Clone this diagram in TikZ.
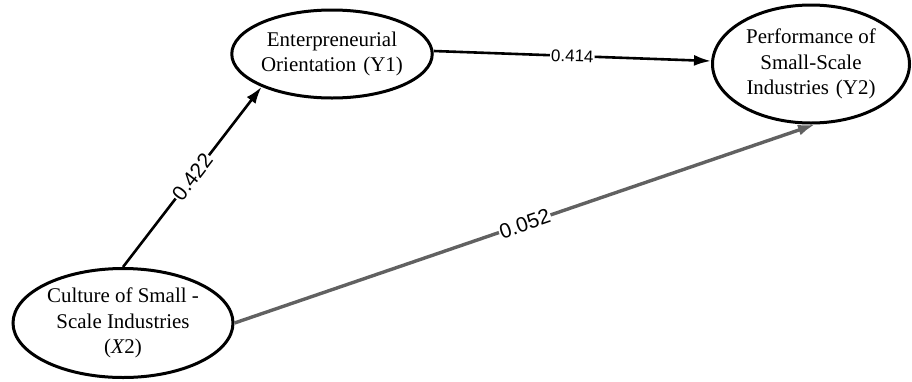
\documentclass[tikz,border=0pt]{standalone}
\usepackage{fontspec}
\setmainfont{Liberation Serif}
\newfontfamily\labelfont{Liberation Sans}
\usetikzlibrary{shapes.geometric,arrows.meta}
\begin{document}
\begin{tikzpicture}[x=1bp,y=-1bp,
  construct/.style={draw=black,line width=3bp,ellipse,inner sep=0pt,align=center,
    font=\fontsize{21}{25.5}\selectfont},
  pathline/.style={line width=2.6bp,draw=black,-{Latex[length=17bp,width=11bp]}},
  greyline/.style={line width=3.4bp,draw=black!62,-{Latex[length=17bp,width=11bp]}},
  coef/.style={fill=white,inner sep=1pt,sloped,text=black},
]
\useasboundingbox (0,0) rectangle (912,381);
\node[construct,minimum width=200bp,minimum height=88bp] (y1) at (332,54)
  {Enterpreneurial\\Orientation\,\,(Y1)};
\node[construct,minimum width=197bp,minimum height=118bp] (y2) at (811,64)
  {Performance of\\Small-Scale\\Industries\,\,(Y2)};
\node[construct,minimum width=220bp,minimum height=109bp] (x2) at (123,323)
  {Culture of Small -\\Scale Industries\\(\textit{X}2)};
\draw[pathline] (x2.north) -- node[coef,font=\labelfont\fontsize{21}{21}\selectfont] (l1) {0.422} (y1.205);
\draw[pathline] ([yshift=3bp]y1.east) -- node[coef,font=\labelfont\fontsize{17}{17}\selectfont] (l2) {0.414} ([yshift=3bp]y2.west);
\draw[greyline] (x2.east) -- node[coef,font=\labelfont\fontsize{21}{21}\selectfont] (l3) {0.052} ([xshift=4bp]y2.south);
\end{tikzpicture}
\end{document}
